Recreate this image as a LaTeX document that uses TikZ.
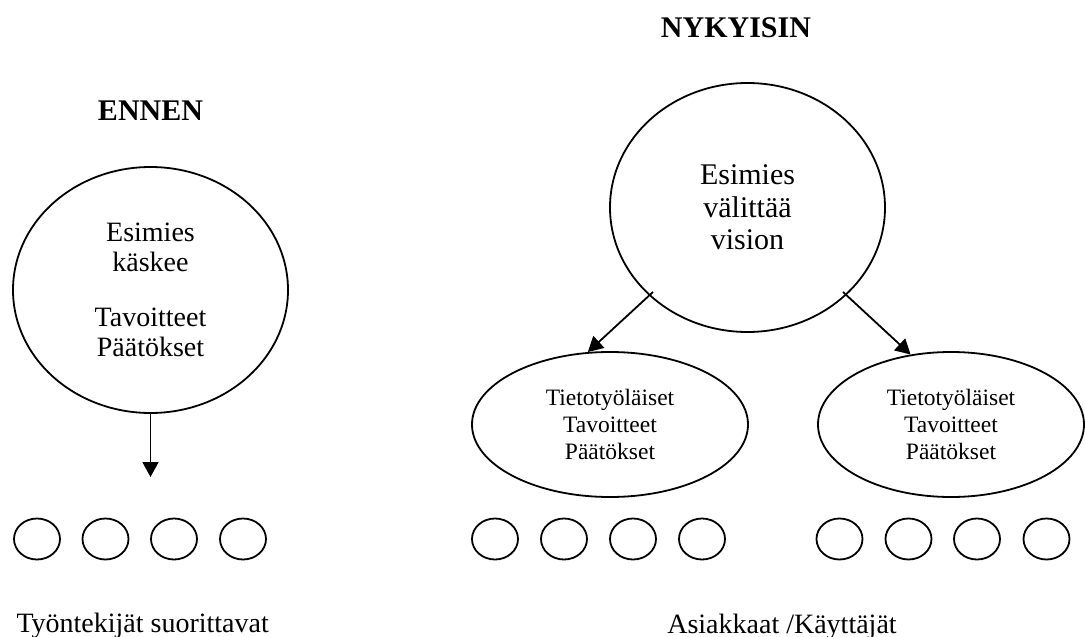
\documentclass[tikz,border=0pt]{standalone}
\usepackage{fontspec}
\setmainfont{Liberation Serif}
\usetikzlibrary{shapes.geometric,arrows.meta}
\begin{document}
\begin{tikzpicture}[x=1pt,y=-1pt,
  shp/.style={draw,ellipse,line width=1.8pt,inner sep=0pt,align=center},
  dot/.style={draw,ellipse,line width=1.8pt,minimum width=46pt,minimum height=41pt,inner sep=0pt},
  arr/.style={line width=1.8pt,-{Triangle[width=16pt,length=15pt]}},
  head/.style={anchor=base,font=\fontsize{30}{33}\selectfont\bfseries},
  lbl/.style={anchor=base,font=\fontsize{28}{30}\selectfont}]
\useasboundingbox (0,0) rectangle (1085,637);
% headings
\node[head] (ennen) at (150.5,120) {ENNEN};
\node[head] (nyk) at (736,37) {NYKYISIN};
% big ellipses
\node[shp,minimum width=275pt,minimum height=246pt,font=\fontsize{28}{30}\selectfont]
  (L) at (150.5,290) {Esimies\\käskee\\[25pt]Tavoitteet\\Päätökset};
\node[shp,minimum width=275pt,minimum height=249pt,font=\fontsize{30}{32.5}\selectfont]
  (R) at (747.5,207.5) {Esimies\\välittää\\vision};
% small ellipses
\node[shp,minimum width=276pt,minimum height=145pt,font=\fontsize{23.5}{27}\selectfont]
  (sm1) at (610,424.5) {Tietotyöläiset\\Tavoitteet\\Päätökset};
\node[shp,minimum width=266pt,minimum height=145pt,font=\fontsize{23.5}{27}\selectfont]
  (sm2) at (951,424.5) {Tietotyöläiset\\Tavoitteet\\Päätökset};
% circles
\foreach \x [count=\i] in {37,105.5,174,243,495,564,633,702,839.5,908.5,977,1046.5}
  \node[dot] (c\i) at (\x,539) {};
% arrows
\coordinate (e0) at (150.5,477);
\draw[arr] (L.south) -- (e0);
\coordinate (s1) at (653,292);
\coordinate (s2) at (843,292);
\draw[arr] (s1) -- (sm1.107);
\draw[arr] (s2) -- (sm2.120);
% bottom labels
\node[lbl,anchor=base west] (tyo) at (13,632) {Työntekijät suorittavat};
\node[lbl] (asi) at (782,633) {Asiakkaat /Käyttäjät};
\end{tikzpicture}
\end{document}
